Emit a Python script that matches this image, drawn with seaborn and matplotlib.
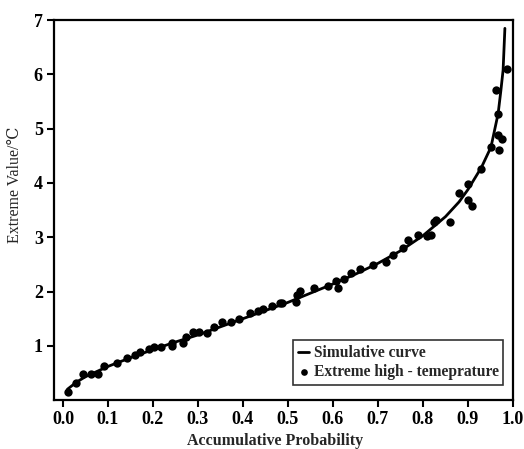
"""Extreme high-temperature values vs accumulative probability with fitted curve."""

import matplotlib

matplotlib.use("Agg")
import matplotlib.pyplot as plt
import pandas as pd
import seaborn as sns

obs_prob = [
    0.011, 0.029, 0.045, 0.062, 0.078, 0.091, 0.120, 0.142, 0.160, 0.171,
    0.192, 0.203, 0.218, 0.242, 0.242, 0.267, 0.274, 0.289, 0.303, 0.321,
    0.336, 0.354, 0.374, 0.392, 0.416, 0.434, 0.445, 0.465, 0.483, 0.486,
    0.517, 0.521, 0.526, 0.557, 0.588, 0.606, 0.612, 0.624, 0.639, 0.661,
    0.688, 0.717, 0.733, 0.755, 0.766, 0.790, 0.810, 0.817, 0.824, 0.828,
    0.860, 0.880, 0.900, 0.900, 0.909, 0.929, 0.951, 0.962, 0.967, 0.967,
    0.969, 0.975, 0.987,
]
obs_value = [
    0.15, 0.31, 0.48, 0.48, 0.48, 0.63, 0.68, 0.77, 0.83, 0.88,
    0.94, 0.98, 0.98, 1.05, 1.00, 1.05, 1.16, 1.25, 1.25, 1.23,
    1.34, 1.44, 1.44, 1.49, 1.60, 1.64, 1.67, 1.73, 1.79, 1.79,
    1.81, 1.93, 2.01, 2.07, 2.10, 2.19, 2.06, 2.24, 2.34, 2.41,
    2.49, 2.54, 2.67, 2.80, 2.95, 3.04, 3.02, 3.04, 3.28, 3.31,
    3.29, 3.81, 3.98, 3.68, 3.57, 4.25, 4.66, 5.72, 5.28, 4.88,
    4.60, 4.82, 6.10,
]

# simulative curve
curve_prob = [
    0.010, 0.030, 0.050, 0.100, 0.150, 0.200, 0.250, 0.300, 0.350, 0.400,
    0.450, 0.500, 0.550, 0.600, 0.650, 0.700, 0.750, 0.800, 0.850, 0.880,
    0.900, 0.930, 0.951, 0.967, 0.973, 0.978, 0.982,
]
curve_value = [
    0.20, 0.33, 0.43, 0.62, 0.78, 0.93, 1.07, 1.20, 1.35, 1.50,
    1.65, 1.80, 1.97, 2.14, 2.32, 2.52, 2.75, 3.03, 3.38, 3.65,
    3.88, 4.29, 4.66, 5.28, 5.70, 6.08, 6.85,
]

x_ticks = [0.0, 0.1, 0.2, 0.3, 0.4, 0.5, 0.6, 0.7, 0.8, 0.9, 1.0]
y_ticks = [1, 2, 3, 4, 5, 6, 7]

sns.set_style("ticks")
plt.rcParams["font.family"] = ["Liberation Serif", "DejaVu Serif"]

obs = pd.DataFrame({"prob": obs_prob, "value": obs_value})
curve = pd.DataFrame({"prob": curve_prob, "value": curve_value})

fig = plt.figure(figsize=(5.24, 4.49), dpi=100)
ax = fig.add_axes([0.103, 0.109, 0.876, 0.846])

sns.lineplot(data=curve, x="prob", y="value", ax=ax, color="black",
             linewidth=2.0, label="Simulative curve", sort=False)
sns.scatterplot(data=obs, x="prob", y="value", ax=ax, color="black",
                s=36, edgecolor="black", linewidth=0,
                label="Extreme high - temeprature", zorder=3)

ax.set_xlim(-0.02, 1.0)
ax.set_ylim(0, 7)
ax.set_xticks(x_ticks)
ax.set_xticklabels([f"{t:.1f}" for t in x_ticks])
ax.set_yticks(y_ticks)

for side in ["top", "right", "left", "bottom"]:
    ax.spines[side].set_visible(True)
    ax.spines[side].set_linewidth(1.6)
    ax.spines[side].set_color("black")

ax.tick_params(direction="out", length=5, width=1.5, labelsize=13,
               colors="black", pad=3)
for lbl in ax.get_xticklabels() + ax.get_yticklabels():
    lbl.set_fontweight("bold")

ax.set_xlabel("Accumulative Probability", fontsize=11.5, fontweight="bold")
ax.xaxis.set_label_coords(0.482, -0.086)
ax.set_ylabel("Extreme Value/℃", fontsize=11.5)
ax.yaxis.set_label_coords(-0.068, 0.566)

leg = ax.legend(loc="lower right", bbox_to_anchor=(0.979, 0.04),
                borderaxespad=0, frameon=True, fancybox=False,
                edgecolor="black", fontsize=11.2, handlelength=0.7,
                handletextpad=0.3, borderpad=0.3, labelspacing=0.2,
                markerscale=0.8)
leg.get_frame().set_linewidth(1.2)
for txt in leg.get_texts():
    txt.set_fontweight("bold")

fig.savefig("out.png", dpi=100)
